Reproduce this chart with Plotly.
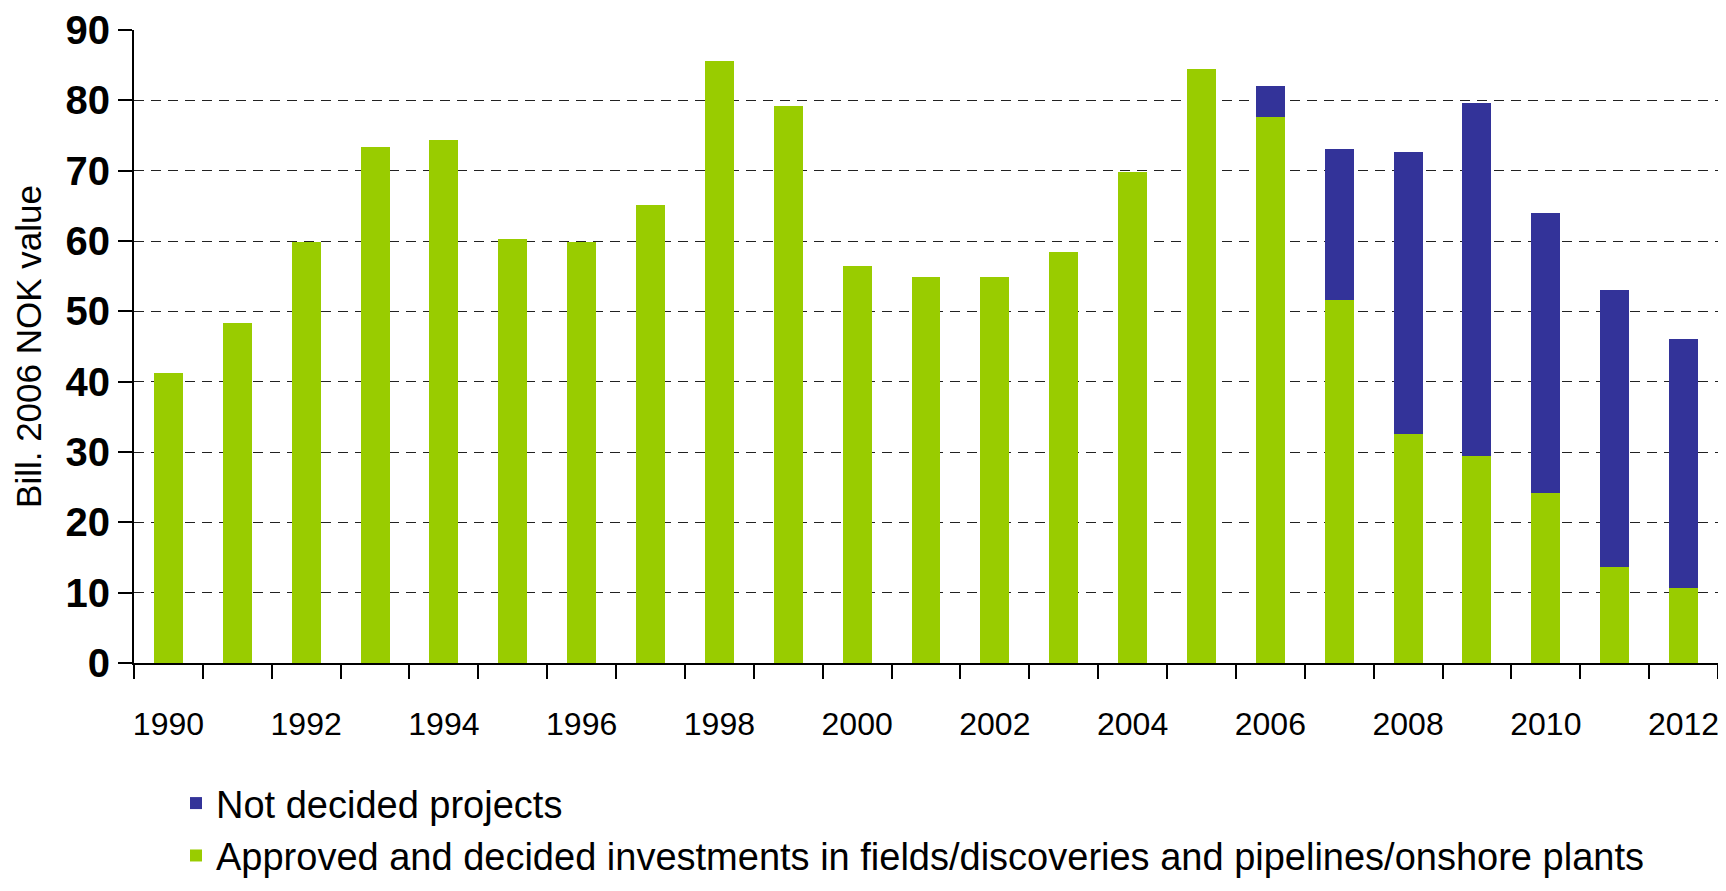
import plotly.graph_objects as go

years = [str(y) for y in range(1990, 2013)]
approved = [41.2, 48.4, 59.8, 73.4, 74.3, 60.3, 59.8, 65.1, 85.6, 79.2, 56.5, 54.9,
            54.9, 58.5, 69.8, 84.5, 77.6, 51.6, 32.5, 29.4, 24.2, 13.7, 10.7]
totals = [41.2, 48.4, 59.8, 73.4, 74.3, 60.3, 59.8, 65.1, 85.6, 79.2, 56.5, 54.9,
          54.9, 58.5, 69.8, 84.5, 82.1, 73.1, 72.7, 79.6, 64.0, 53.1, 46.0]
not_decided = [round(t - a, 1) for t, a in zip(totals, approved)]
tick_text = [y if int(y) % 2 == 0 else "" for y in years]

GREEN = "#99CC00"
BLUE = "#333399"
SANS = "Liberation Sans, Arial, sans-serif"

fig = go.Figure()
fig.add_trace(go.Bar(
    x=years, y=approved, marker_color=GREEN, marker_line_width=0,
    name="Approved and decided investments in fields/discoveries and pipelines/onshore plants",
))
fig.add_trace(go.Bar(
    x=years, y=not_decided, marker_color=BLUE, marker_line_width=0,
    name="Not decided projects",
))

# page body has an 8px margin, so the figure is sized to fit inside it
fig.update_layout(
    width=1710, height=875,
    barmode="stack", bargap=0.58,
    plot_bgcolor="white", paper_bgcolor="white",
    margin=dict(l=126, r=0, t=22, b=220, autoexpand=False),
    font=dict(family=SANS, color="black"),
    legend=dict(
        orientation="v", traceorder="reversed",
        x=0.0265, xanchor="left", y=-0.172, yanchor="top",
        font=dict(family=SANS, size=38), itemwidth=30, tracegroupgap=0,
    ),
)
fig.update_xaxes(
    type="category", tickvals=years, ticktext=tick_text, tickson="boundaries",
    tickangle=0, automargin=False, ticklabelstandoff=32,
    ticks="outside", ticklen=14, tickwidth=2, tickcolor="black",
    showline=True, linecolor="black", linewidth=2,
    tickfont=dict(family=SANS, size=32), showgrid=False,
)
fig.update_yaxes(
    range=[0, 90], dtick=10, automargin=False,
    ticks="outside", ticklen=14, tickwidth=2, tickcolor="black",
    showline=True, linecolor="black", linewidth=2,
    showgrid=True, gridcolor="#222", gridwidth=1, griddash="10px,7px",
    zeroline=False,
    tickfont=dict(family=SANS, size=40, weight="bold"),
    title=dict(text="Bill. 2006 NOK value", font=dict(family=SANS, size=35), standoff=13),
)

fig.write_html("out.html")
